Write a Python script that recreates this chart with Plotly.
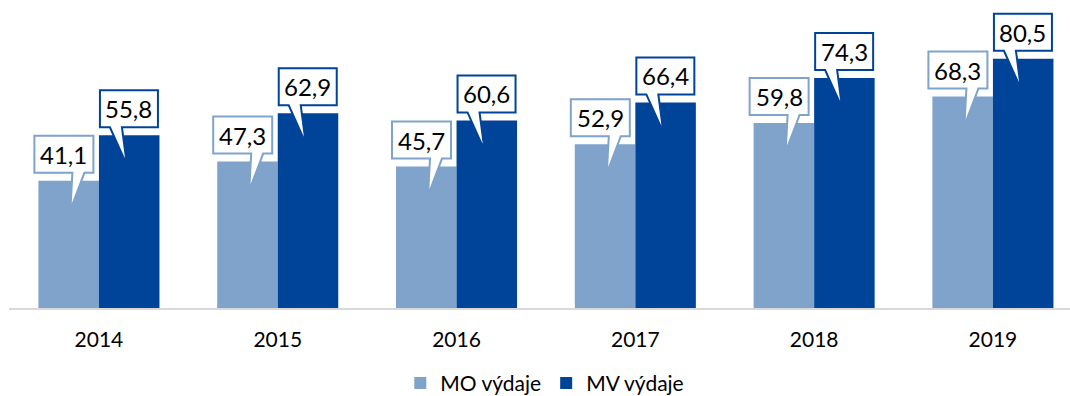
import plotly.graph_objects as go

# Expenditure per year for the two series
years = ["2014", "2015", "2016", "2017", "2018", "2019"]
mo_values = [41.1, 47.3, 45.7, 52.9, 59.8, 68.3]
mv_values = [55.8, 62.9, 60.6, 66.4, 74.3, 80.5]
series_names = ["MO výdaje", "MV výdaje"]

MO_COLOR = "#7fa3cb"
MV_COLOR = "#00449a"
FONT = "Lato, 'Open Sans', sans-serif"

BARGAP = 0.323
half_w = (1 - BARGAP) / 2  # width of one bar in axis units
xpos = list(range(len(years)))


def fmt(v):
    return f"{v:.1f}".replace(".", ",")


fig = go.Figure()
fig.add_trace(go.Bar(x=xpos, y=mo_values, name=series_names[0],
                     marker=dict(color=MO_COLOR, line=dict(width=0))))
fig.add_trace(go.Bar(x=xpos, y=mv_values, name=series_names[1],
                     marker=dict(color=MV_COLOR, line=dict(width=0))))

# Speech-bubble callouts, sized in pixels and anchored at each bar's top-left corner
mo_bubble = "M-4,45 L55,45 L55,8 L46,8 L32,-29 L34,8 L-4,8 Z"
mv_bubble = "M1,45 L59,45 L59,8 L23,8 L28,-30 L11,8 L1,8 Z"

for i, (mo, mv) in enumerate(zip(mo_values, mv_values)):
    for left, val, path, col, cx in (
        (i - half_w, mo, mo_bubble, MO_COLOR, 25.5),
        (i, mv, mv_bubble, MV_COLOR, 30),
    ):
        fig.add_shape(type="path", path=path,
                      xref="x", yref="y", xsizemode="pixel", ysizemode="pixel",
                      xanchor=left, yanchor=val,
                      fillcolor="white", line=dict(color=col, width=2),
                      layer="above")
        fig.add_annotation(x=left, y=val, xref="x", yref="y",
                           text=fmt(val), showarrow=False,
                           xanchor="center", yanchor="middle",
                           xshift=cx, yshift=26.5,
                           font=dict(family=FONT, size=24, color="#000000"))

fig.update_layout(
    width=1070, height=396,
    margin=dict(l=9, r=0, t=0, b=88, autoexpand=False),
    paper_bgcolor="white", plot_bgcolor="white",
    barmode="group", bargap=BARGAP, bargroupgap=0,
    font=dict(family=FONT, color="#000000"),
    showlegend=True,
    legend=dict(orientation="h", x=0.505, xanchor="center",
                y=-0.245, yanchor="middle",
                font=dict(family=FONT, size=21, color="#000000"),
                itemclick=False, itemdoubleclick=False),
    xaxis=dict(range=[-0.503, 5.431], tickmode="array", tickvals=xpos,
               ticktext=years, showgrid=False, zeroline=False,
               showline=True, linecolor="#d9d9d9", linewidth=2,
               ticks="", ticklabelstandoff=12,
               tickfont=dict(family=FONT, size=21, color="#000000")),
    yaxis=dict(range=[0, 99.5], visible=False, showgrid=False,
               zeroline=False),
)

fig.write_html("out.html")
